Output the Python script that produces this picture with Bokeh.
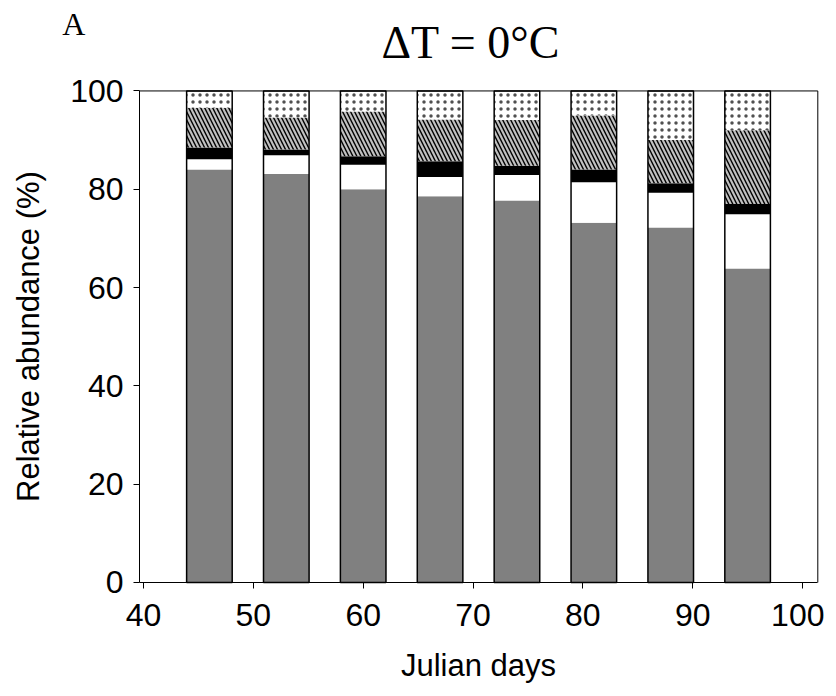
from bokeh.plotting import figure
from bokeh.models import FixedTicker, Range1d, ColumnDataSource, Label
from bokeh.embed import file_html
from bokeh.resources import INLINE

# Data (relative abundance %, per sampling day)
days = [46, 53, 60, 67, 74, 81, 88, 95]
gray_group = [84.0, 83.1, 80.0, 78.6, 77.7, 73.2, 72.2, 63.9]
white_group = [2.1, 3.8, 5.0, 3.9, 5.2, 8.2, 7.1, 11.0]
black_group = [2.4, 1.2, 1.7, 3.2, 1.9, 2.6, 1.9, 2.1]
hatched_group = [8.1, 6.5, 9.1, 8.5, 9.3, 11.0, 8.8, 15.0]
dotted_group = [3.4, 5.4, 4.2, 5.8, 5.9, 5.0, 10.0, 8.0]

x_ticks = [40, 50, 60, 70, 80, 90, 100]
y_ticks = [0, 20, 40, 60, 80, 100]

# axis box limits (data units)
X0, X1 = 39.64, 101.39
Y0, Y1 = 0, 100

p = figure(frame_width=824, frame_height=686, output_backend="svg",
           toolbar_location=None, x_range=Range1d(26.98, 102.0),
           y_range=Range1d(-21.16, 118.4), min_border_left=0, min_border_right=0,
           min_border_top=0, min_border_bottom=0)
p.background_fill_color = "white"
p.border_fill_color = "white"
p.outline_line_color = None
p.xgrid.visible = False
p.ygrid.visible = False

W = 4.15
layers = [
    (gray_group, dict(fill_color="#808080")),
    (white_group, dict(fill_color="white")),
    (black_group, dict(fill_color="black")),
    (hatched_group, dict(fill_color="#c0c0c0", hatch_pattern="left_diagonal_line",
                         hatch_color="black", hatch_scale=8, hatch_weight=1.4)),
    (dotted_group, dict(fill_color="white", hatch_pattern="dot",
                        hatch_color="#505050", hatch_scale=7, hatch_weight=3)),
]
bottom = [0.0] * len(days)
for vals, style in layers:
    top = [b + v for b, v in zip(bottom, vals)]
    src = ColumnDataSource(dict(x=days, bottom=bottom, top=top))
    p.vbar(x="x", bottom="bottom", top="top", width=W, source=src,
           line_color=None, **style)
    bottom = top

src_o = ColumnDataSource(dict(x=days, top=bottom))
p.vbar(x="x", bottom=0, top="top", width=W, source=src_o, fill_color=None,
       line_color="black", line_width=1.5)

# top and right sides of the axis box
p.segment(x0=[X0, X1], y0=[Y1, Y0], x1=[X1, X1], y1=[Y1, Y1],
          line_color="black", line_width=1)

for ax in (p.xaxis[0], p.yaxis[0]):
    ax.axis_line_color = "black"
    ax.axis_line_width = 1
    ax.major_tick_in = 0
    ax.major_tick_out = 6
    ax.major_tick_line_color = "black"
    ax.minor_tick_line_color = None
    ax.major_label_text_font = "Liberation Sans"
    ax.major_label_text_font_size = "32px"
    ax.major_label_text_color = "black"
    ax.axis_label_text_font = "Liberation Sans"
    ax.axis_label_text_font_size = "31px"
    ax.axis_label_text_font_style = "normal"
    ax.axis_label_text_color = "black"

p.xaxis.ticker = FixedTicker(ticks=x_ticks)
p.yaxis.ticker = FixedTicker(ticks=y_ticks)
p.xaxis.bounds = (X0, X1)
p.yaxis.bounds = (Y0, Y1)
p.yaxis.fixed_location = X0
p.xaxis.fixed_location = Y0
p.xaxis.axis_label = "Julian days"
p.yaxis.axis_label = "Relative abundance (%)"
p.xaxis.major_label_standoff = 16
p.xaxis.axis_label_standoff = 18
p.yaxis.major_label_standoff = 10
p.yaxis.axis_label_standoff = 21

p.add_layout(Label(x=69.8, y=109.85, text="\u0394T = 0\u00b0C", text_align="center",
                   text_baseline="alphabetic", text_font="Liberation Serif",
                   text_font_size="46px", text_color="black"))
p.add_layout(Label(x=32.6, y=113.6, text="A", text_align="left",
                   text_baseline="alphabetic", text_font="Liberation Serif",
                   text_font_size="32px", text_color="black"))

open("out.html", "w").write(file_html(p, INLINE))
